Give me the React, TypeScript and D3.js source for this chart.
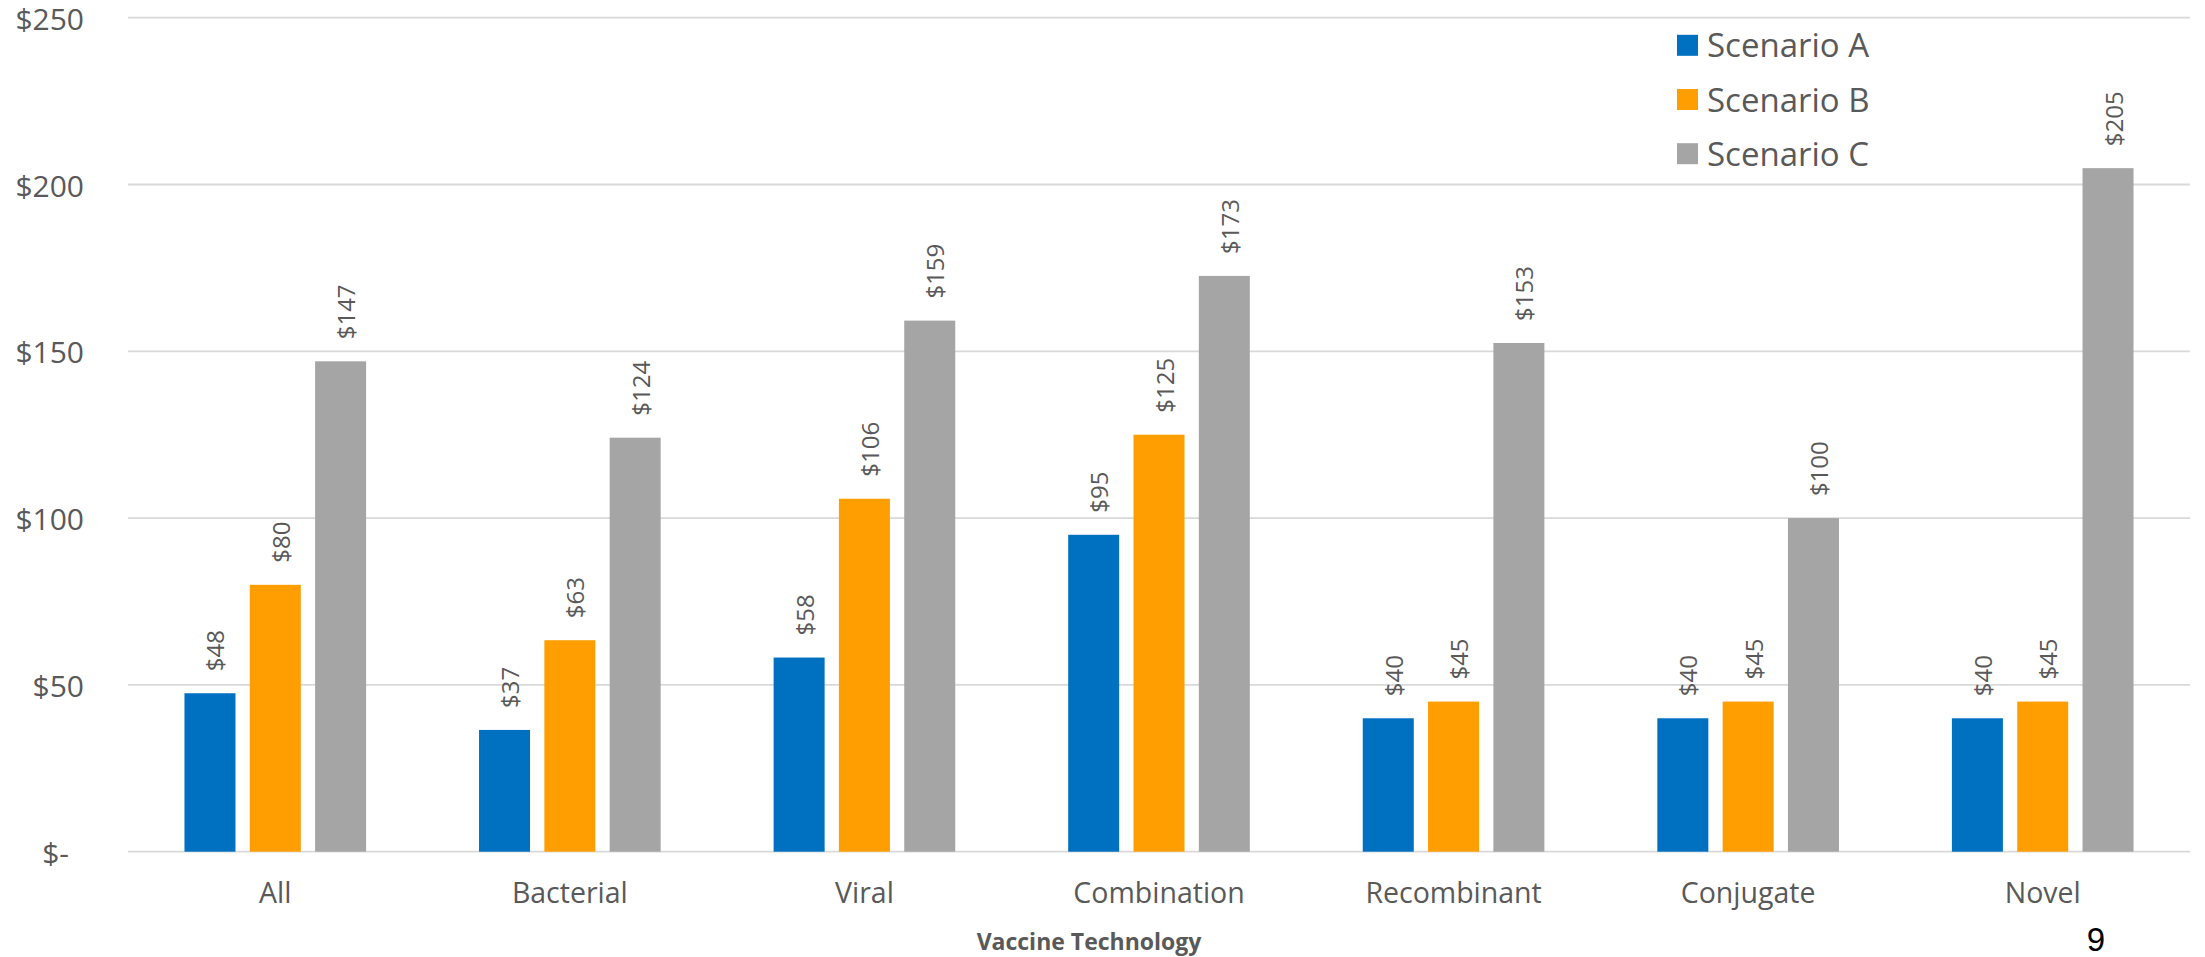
import React from "react";
import * as d3 from "d3";

const categories = ["All", "Bacterial", "Viral", "Combination", "Recombinant", "Conjugate", "Novel"];
const seriesNames = ["Scenario A", "Scenario B", "Scenario C"];
const scenarioA = [47.5, 36.5, 58.2, 95, 40, 40, 40];
const scenarioB = [80, 63.4, 105.8, 125, 45, 45, 45];
const scenarioC = [147, 124.1, 159.2, 172.6, 152.5, 100, 204.9];
const seriesValues = [scenarioA, scenarioB, scenarioC];
const colors = ["#0070C0", "#FF9E01", "#A5A5A5"];
const yTicks = [0, 50, 100, 150, 200, 250];
const xTitle = "Vaccine Technology";
const pageNumber = "9";

const W = 2205;
const H = 957;
const plotLeft = 128;
const plotRight = 2190;
const plotTop = 17.7;
const plotBottom = 851.7;
const textGray = "#595959";
const font = "'Open Sans', 'Noto Sans', sans-serif";

export default function App() {
  const y = d3.scaleLinear().domain([0, 250]).range([plotBottom, plotTop]);
  const x0 = d3
    .scaleBand<string>()
    .domain(categories)
    .range([plotLeft, plotRight])
    .paddingInner(0.3834)
    .paddingOuter(0.1917);
  const x1 = d3
    .scaleBand<string>()
    .domain(seriesNames)
    .range([0, x0.bandwidth()])
    .paddingInner(0.219)
    .paddingOuter(0);

  const fmtTick = (v: number) => (v === 0 ? "$-\u2002" : `$${v}`);

  return (
    <svg
      width={W}
      height={H}
      style={{ position: "absolute", left: 0, top: 0, background: "#fff" }}
      fontFamily={font}
    >
      {yTicks.map((t) => (
        <line
          key={`g${t}`}
          x1={plotLeft}
          x2={plotRight}
          y1={y(t)}
          y2={y(t)}
          stroke="#D9D9D9"
          strokeWidth={1.8}
        />
      ))}
      {yTicks.map((t) => (
        <text
          key={`yl${t}`}
          x={84}
          y={y(t) + 12}
          textAnchor="end"
          fontSize={30}
          fill={textGray}
        >
          {fmtTick(t)}
        </text>
      ))}
      {categories.map((c, ci) => (
        <g key={c} transform={`translate(${x0(c)},0)`}>
          {seriesNames.map((s, si) => {
            const v = seriesValues[si][ci];
            const bx = x1(s) as number;
            const bw = x1.bandwidth();
            const cx = bx + bw / 2 + 5;
            const ty = y(v) - 22;
            return (
              <g key={s}>
                <rect x={bx} y={y(v)} width={bw} height={y(0) - y(v)} fill={colors[si]} />
                <text
                  transform={`translate(${cx},${ty}) rotate(-90)`}
                  textAnchor="start"
                  dominantBaseline="central"
                  fontSize={24}
                  fill={textGray}
                >
                  {`$${Math.round(v)}`}
                </text>
              </g>
            );
          })}
        </g>
      ))}
      {categories.map((c) => (
        <text
          key={`xl${c}`}
          x={(x0(c) as number) + x0.bandwidth() / 2}
          y={903}
          textAnchor="middle"
          fontSize={28.5}
          fill={textGray}
        >
          {c}
        </text>
      ))}
      <text x={1089} y={950} textAnchor="middle" fontSize={23} fontWeight="bold" fill={textGray}>
        {xTitle}
      </text>
      {seriesNames.map((s, i) => (
        <g key={`lg${s}`} transform={`translate(1677,${45.3 + i * 54.2})`}>
          <rect x={0} y={-10.5} width={21} height={21} fill={colors[i]} />
          <text x={30} y={12} fontSize={33} fill={textGray}>
            {s}
          </text>
        </g>
      ))}
      <text
        x={2096}
        y={950.5}
        textAnchor="middle"
        fontSize={33}
        fontFamily="'Liberation Sans', Arial, sans-serif"
        fill="#000"
      >
        {pageNumber}
      </text>
    </svg>
  );
}
